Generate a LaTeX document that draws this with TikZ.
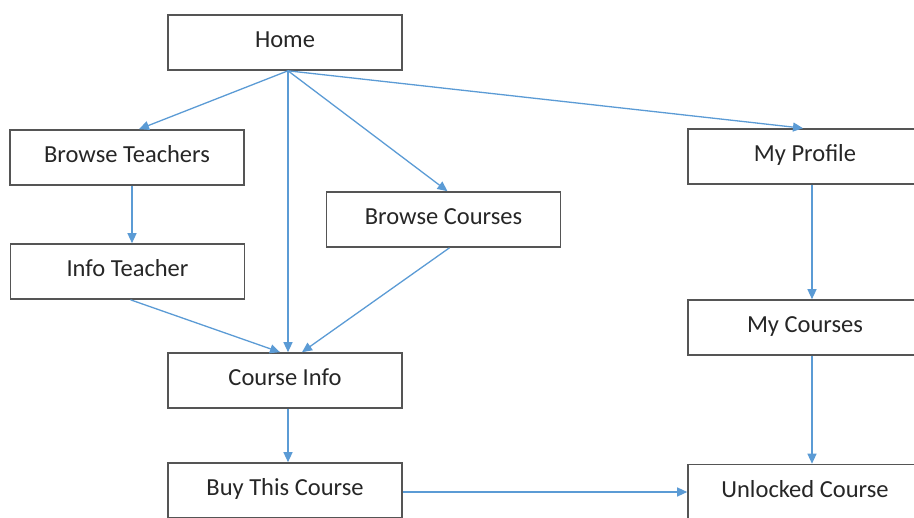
\documentclass[tikz,border=0pt]{standalone}
\usepackage{fontspec}
\setmainfont{Carlito}
\usetikzlibrary{arrows.meta}
\definecolor{linkblue}{RGB}{91,155,213}
\definecolor{boxgray}{RGB}{85,85,85}
\begin{document}
\begin{tikzpicture}[x=1pt, y=-1pt, shorten >=0pt, line width=1.5pt,main node/.style={rectangle,draw=boxgray,line width=1.6pt,minimum width=234pt,minimum height=55pt,inner sep=0pt,text height=16pt,text depth=5pt,font=\fontsize{24.5}{28}\selectfont,text=black!85},link/.style={draw=linkblue,line width=1.3pt,-{Triangle[length=10pt,width=9pt]}}]%
\clip (0,0) rectangle (914,518);
\begin{scope}
\node[main node] (home) at (285,42.5) {Home};
\node[main node] (teachers) at (127,157.5) {Browse Teachers};
\node[main node] (infoteacher) at (127.5,271.5) {Info Teacher};
\node[main node] (courses) at (443.5,219.5) {Browse Courses};
\node[main node] (profile) at (805,156.5) {My Profile};
\node[main node] (mycourses) at (805,327.5) {My Courses};
\node[main node] (courseinfo) at (285,380.5) {Course Info};
\node[main node] (buy) at (285,490.5) {Buy This Course};
\node[main node] (unlocked) at (805,492) {Unlocked Course};
%\node[main node] () at (,) {};
\end{scope}
\begin{scope}
\coordinate (hb) at ([xshift=3pt]home.south);
\draw[link] (hb) -- ([xshift=12pt]teachers.north);
\draw[link] (hb) -- ([xshift=3pt]courseinfo.north);
\draw[link] (hb) -- ([xshift=4pt]courses.north);
\draw[link] (hb) -- ([xshift=-2pt]profile.north);
\draw[link] ([xshift=5pt]teachers.south) -- ([xshift=4.5pt]infoteacher.north);
\draw[link] ([xshift=3pt]infoteacher.south) -- ([xshift=-5pt]courseinfo.north);
\draw[link] ([xshift=6pt]courses.south) -- ([xshift=17pt]courseinfo.north);
\draw[link] ([xshift=3pt]courseinfo.south) -- ([xshift=3pt]buy.north);
\draw[link] ([yshift=-1.5pt]buy.east) -- (unlocked.west);
\draw[link] ([xshift=7pt]profile.south) -- ([xshift=7pt]mycourses.north);
\draw[link] ([xshift=7pt]mycourses.south) -- ([xshift=7pt]unlocked.north);
%\draw[link] () -- ();
\end{scope}
\end{tikzpicture}
\end{document}
